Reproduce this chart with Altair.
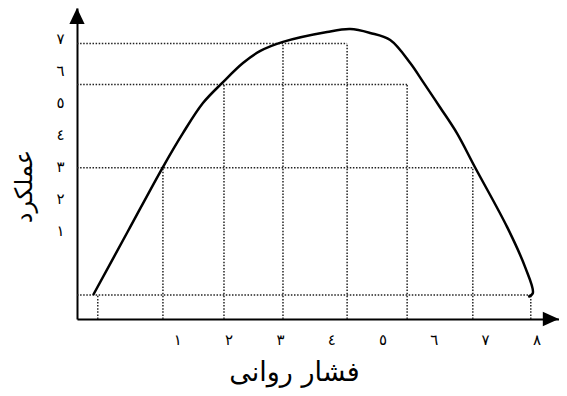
import altair as alt
import pandas as pd

# ---- data ----
x_ticks = [1, 2, 3, 4, 5, 6, 7, 8]
y_ticks = [1, 2, 3, 4, 5, 6, 7]
arabic_digits = ["٠", "١", "٢", "٣", "٤", "٥", "٦", "٧", "٨", "٩"]

curve_x = [-0.64, 0.04, 0.72, 1.11, 1.50, 1.87, 2.28, 2.61, 3.06, 3.92, 4.37,
           4.76, 5.15, 5.54, 5.79, 6.12, 6.45, 6.80, 7.43, 7.78, 7.93, 7.84]
curve_y = [-1.03, 0.97, 2.97, 4.03, 4.97, 5.59, 6.22, 6.59, 6.88, 7.19, 7.28,
           7.16, 6.94, 6.22, 5.63, 4.84, 4.03, 2.97, 1.09, -0.16, -0.97, -1.09]

levels = [-1.03, 2.95, 5.55, 6.83]
left_x = [-0.55, 0.72, 1.91, 3.06]
right_x = [7.89, 6.76, 5.48, 4.31]

x_title = "فشار روانی"
y_title = "عملکرد"

# ---- scales ----
X_MIN, X_MAX = -0.955, 8.44
Y_MIN, Y_MAX = -1.78, 7.94
FONT = "DejaVu Sans"

label_expr = "[" + ",".join("'%s'" % d for d in arabic_digits) + "][datum.value]"

xs = alt.Scale(domain=[X_MIN, X_MAX], nice=False, zero=False)
ys = alt.Scale(domain=[Y_MIN, Y_MAX], nice=False, zero=False)

x_axis = alt.Axis(values=x_ticks, labelExpr=label_expr, ticks=False, grid=False,
                  domainColor="black", domainWidth=2, labelPadding=13,
                  labelFontSize=15, labelFont=FONT, labelColor="black",
                  title=x_title, titleFont=FONT, titleFontSize=27,
                  titleFontWeight="normal", titleColor="black",
                  titleX=217, titleY=61, titleBaseline="alphabetic",
                  titleAnchor="start", titleAlign="center")
y_axis = alt.Axis(values=y_ticks, labelExpr=label_expr, ticks=False, grid=False,
                  domainColor="black", domainWidth=2, labelPadding=13,
                  labelFontSize=15, labelFont=FONT, labelColor="black",
                  title=y_title, titleFont=FONT, titleFontSize=24,
                  titleFontWeight="normal", titleColor="black",
                  titleX=-53, titleY=178, titleAngle=270,
                  titleBaseline="middle", titleAlign="center")

curve_df = pd.DataFrame({"x": curve_x, "y": curve_y, "o": list(range(len(curve_x)))})
h_df = pd.DataFrame({"x": [X_MIN] * len(levels), "x2": right_x, "y": levels})
v_df = pd.DataFrame({"x": left_x + right_x, "y": [Y_MIN] * (2 * len(levels)),
                     "y2": levels + levels})

dash = dict(color="#222222", strokeWidth=1.5, strokeDash=[1.5, 1.6])

h_rules = alt.Chart(h_df).mark_rule(**dash).encode(
    x=alt.X("x:Q", scale=xs, axis=x_axis), x2="x2:Q",
    y=alt.Y("y:Q", scale=ys, axis=y_axis))
v_rules = alt.Chart(v_df).mark_rule(**dash).encode(
    x=alt.X("x:Q", scale=xs, axis=x_axis),
    y=alt.Y("y:Q", scale=ys, axis=y_axis), y2="y2:Q")

curve = alt.Chart(curve_df).mark_line(
    color="black", strokeWidth=2.5, interpolate="catmull-rom").encode(
    x=alt.X("x:Q", scale=xs, axis=x_axis),
    y=alt.Y("y:Q", scale=ys, axis=y_axis),
    order="o:Q")

up_df = pd.DataFrame({"x": [X_MIN], "y": [7.69]})
right_df = pd.DataFrame({"x": [8.28], "y": [Y_MIN]})

up_arrow = alt.Chart(up_df).mark_point(
    shape="M0,-1L0.95,1L-0.95,1Z", size=256, filled=True, color="black", opacity=1
).encode(x=alt.X("x:Q", scale=xs, axis=x_axis), y=alt.Y("y:Q", scale=ys, axis=y_axis))
right_arrow = alt.Chart(right_df).mark_point(
    shape="M1,0L-1,-0.9L-1,0.9Z", size=256, filled=True, color="black", opacity=1
).encode(x=alt.X("x:Q", scale=xs, axis=x_axis), y=alt.Y("y:Q", scale=ys, axis=y_axis))

chart = alt.layer(h_rules, v_rules, curve, up_arrow, right_arrow).properties(
    width=482, height=311,
    autosize=alt.AutoSizeParams(type="none"),
    padding={"left": 69, "top": 0, "right": 0, "bottom": 69},
    background="white",
).configure_view(strokeWidth=0)

chart.save("out.html", embed_options={"renderer": "svg", "actions": False})
